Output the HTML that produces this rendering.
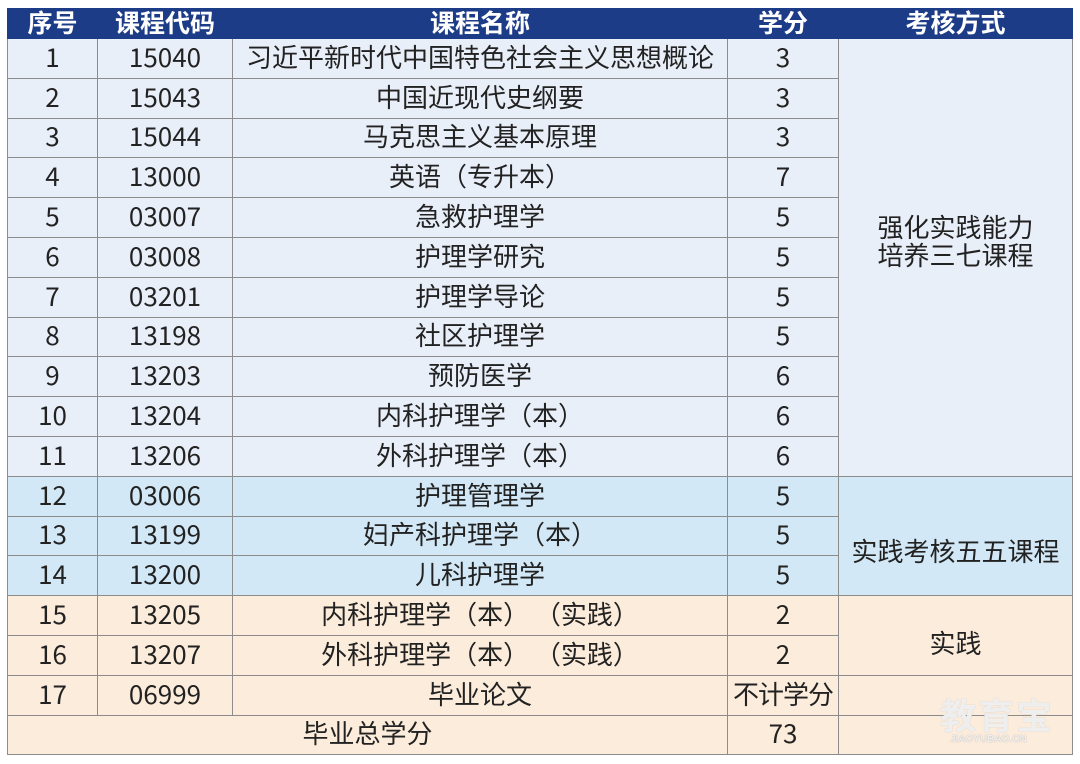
<!DOCTYPE html>
<html><head><meta charset="utf-8"><style>
body{margin:0;background:#fff;width:1080px;height:764px;overflow:hidden;position:relative}
table{position:absolute;left:7px;top:8px;border-collapse:collapse;table-layout:fixed;width:1065px;font-family:"Noto Sans CJK SC",sans-serif;font-size:26px;color:#222}
td,th{border:1px solid #8c8c8c;text-align:center;padding:0 0 3px 0;height:35.8px;line-height:34px;white-space:nowrap;overflow:hidden}
th{background:#1d3c88;color:#fff;font-weight:bold;height:27px;line-height:27px;padding:0 0 2px 0;font-size:25px;border-color:#1d3c88}
.a td{background:#e9eff9}
.b td{background:#d2e8f6}
.c td{background:#fcecdb}
.wm{position:absolute;left:940px;top:688px;color:rgba(255,255,255,.75);font-family:"Noto Sans CJK SC",sans-serif;font-size:36px;font-weight:bold;text-shadow:0 0 1px #bbb;letter-spacing:2px}
.wm2{position:absolute;left:950px;top:734px;color:rgba(255,255,255,.8);font-family:"Liberation Sans",sans-serif;font-size:10px;font-weight:bold;text-shadow:0 0 1px #999}
</style></head><body>
<table>
<colgroup><col style="width:90px"><col style="width:135px"><col style="width:495px"><col style="width:111px"><col style="width:234px"></colgroup>
<tr><th>序号</th><th>课程代码</th><th>课程名称</th><th>学分</th><th>考核方式</th></tr>
<tr class="a"><td>1</td><td>15040</td><td>习近平新时代中国特色社会主义思想概论</td><td>3</td><td rowspan="11" style="line-height:28px;padding-bottom:33px">强化实践能力<br>培养三七课程</td></tr>
<tr class="a"><td>2</td><td>15043</td><td>中国近现代史纲要</td><td>3</td></tr>
<tr class="a"><td>3</td><td>15044</td><td>马克思主义基本原理</td><td>3</td></tr>
<tr class="a"><td>4</td><td>13000</td><td>英语（专升本）</td><td>7</td></tr>
<tr class="a"><td>5</td><td>03007</td><td>急救护理学</td><td>5</td></tr>
<tr class="a"><td>6</td><td>03008</td><td>护理学研究</td><td>5</td></tr>
<tr class="a"><td>7</td><td>03201</td><td>护理学导论</td><td>5</td></tr>
<tr class="a"><td>8</td><td>13198</td><td>社区护理学</td><td>5</td></tr>
<tr class="a"><td>9</td><td>13203</td><td>预防医学</td><td>6</td></tr>
<tr class="a"><td>10</td><td>13204</td><td>内科护理学（本）</td><td>6</td></tr>
<tr class="a"><td>11</td><td>13206</td><td>外科护理学（本）</td><td>6</td></tr>
<tr class="b"><td>12</td><td>03006</td><td>护理管理学</td><td>5</td><td rowspan="3" style="padding-top:30px;padding-bottom:0">实践考核五五课程</td></tr>
<tr class="b"><td>13</td><td>13199</td><td>妇产科护理学（本）</td><td>5</td></tr>
<tr class="b"><td>14</td><td>13200</td><td>儿科护理学</td><td>5</td></tr>
<tr class="c"><td>15</td><td>13205</td><td>内科护理学（本）&nbsp;（实践）</td><td>2</td><td rowspan="2" style="padding-top:16px;padding-bottom:0">实践</td></tr>
<tr class="c"><td>16</td><td>13207</td><td>外科护理学（本）&nbsp;（实践）</td><td>2</td></tr>
<tr class="c"><td>17</td><td>06999</td><td>毕业论文</td><td style="letter-spacing:-1px">不计学分</td><td></td></tr>
<tr class="c"><td colspan="3">毕业总学分</td><td>73</td><td></td></tr>
</table>
<div class="wm">教育宝</div>
<div class="wm2">JIAOYUBAO.CN</div>
</body></html>
